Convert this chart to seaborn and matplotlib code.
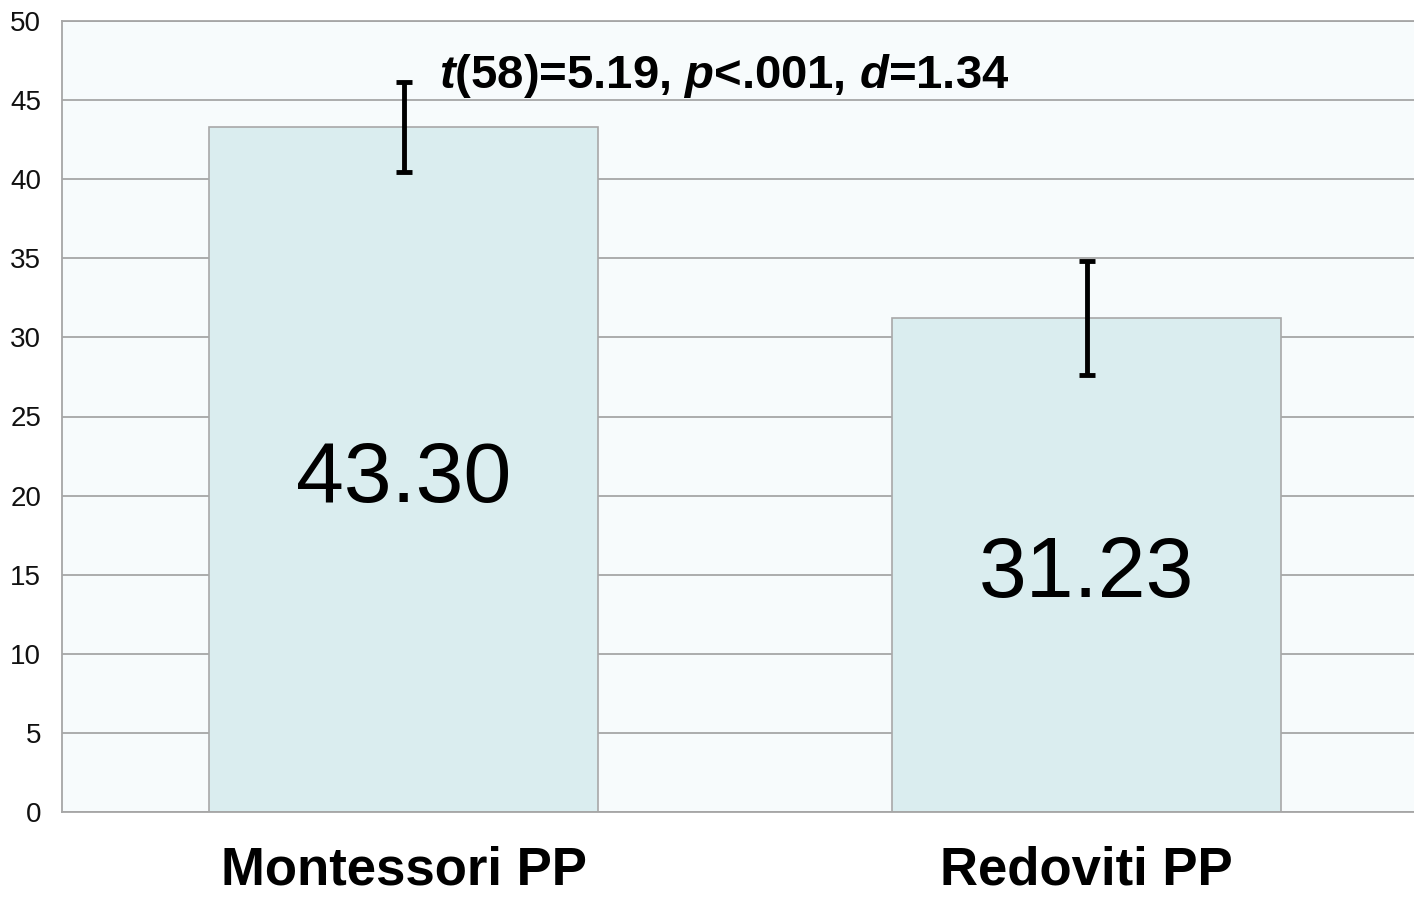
import numpy as np
import pandas as pd
import matplotlib
matplotlib.use('Agg')
import matplotlib.pyplot as plt
import seaborn as sns

# Dados
grupos = ['Montessori PP', 'Redoviti PP']
medias = [43.30, 31.23]
erros = [2.85, 3.6]
rotulos = ['43.30', '31.23']
yticks = [0, 5, 10, 15, 20, 25, 30, 35, 40, 45, 50]
anotacao = r'$\it{t}$(58)=5.19, $\it{p}$<.001, $\it{d}$=1.34'

df = pd.DataFrame({'grupo': grupos, 'media': medias})

sns.set_style('white')
plt.rcParams['font.family'] = ['Liberation Sans', 'DejaVu Sans']
plt.rcParams['mathtext.fontset'] = 'custom'
plt.rcParams['mathtext.it'] = 'Liberation Sans:italic:bold'
plt.rcParams['mathtext.rm'] = 'Liberation Sans:bold'

fig = plt.figure(figsize=(14.14, 8.98), dpi=100)
ax = fig.add_axes([62/1414, 86/898, 1352/1414, 791/898])
ax.set_facecolor('#F7FBFC')

sns.barplot(x='grupo', y='media', data=df, color='#DAEDEF', edgecolor='#A8A8A8',
            linewidth=1.2, width=0.571, saturation=1, errorbar=None, ax=ax, zorder=2)

ax.errorbar(range(len(grupos)), medias, yerr=erros, fmt='none', ecolor='black',
            elinewidth=3.5, capsize=6, capthick=3.5, zorder=3)

# rotulos no meio das barras
for i, r in enumerate(rotulos):
    ax.text(i, medias[i] / 2 - 0.65, r, ha='center', va='center', fontsize=62, color='black', zorder=4)

ax.text(0.47, 45.75, anotacao, ha='center', va='baseline', fontsize=34,
        fontweight='bold', color='black', zorder=4)

ax.set_ylim(0, 50)
ax.set_xlim(-0.5, 1.4795)
ax.set_yticks(yticks)
ax.yaxis.grid(True, color='#A6A6A6', linewidth=1.3, zorder=0)
ax.set_axisbelow(True)
ax.tick_params(axis='y', length=0, pad=15, labelsize=20, labelcolor='#111111')
ax.tick_params(axis='x', length=0, pad=24, labelcolor='black')
ax.set_xticks(range(len(grupos)))
ax.set_xticklabels(grupos, fontsize=38, fontweight='bold')
ax.set_xlabel('')
ax.set_ylabel('')
for s in ['left', 'bottom', 'top']:
    ax.spines[s].set_color('#A6A6A6')
    ax.spines[s].set_linewidth(1.3)
ax.spines['right'].set_visible(False)

plt.savefig('out.png', dpi=100)
